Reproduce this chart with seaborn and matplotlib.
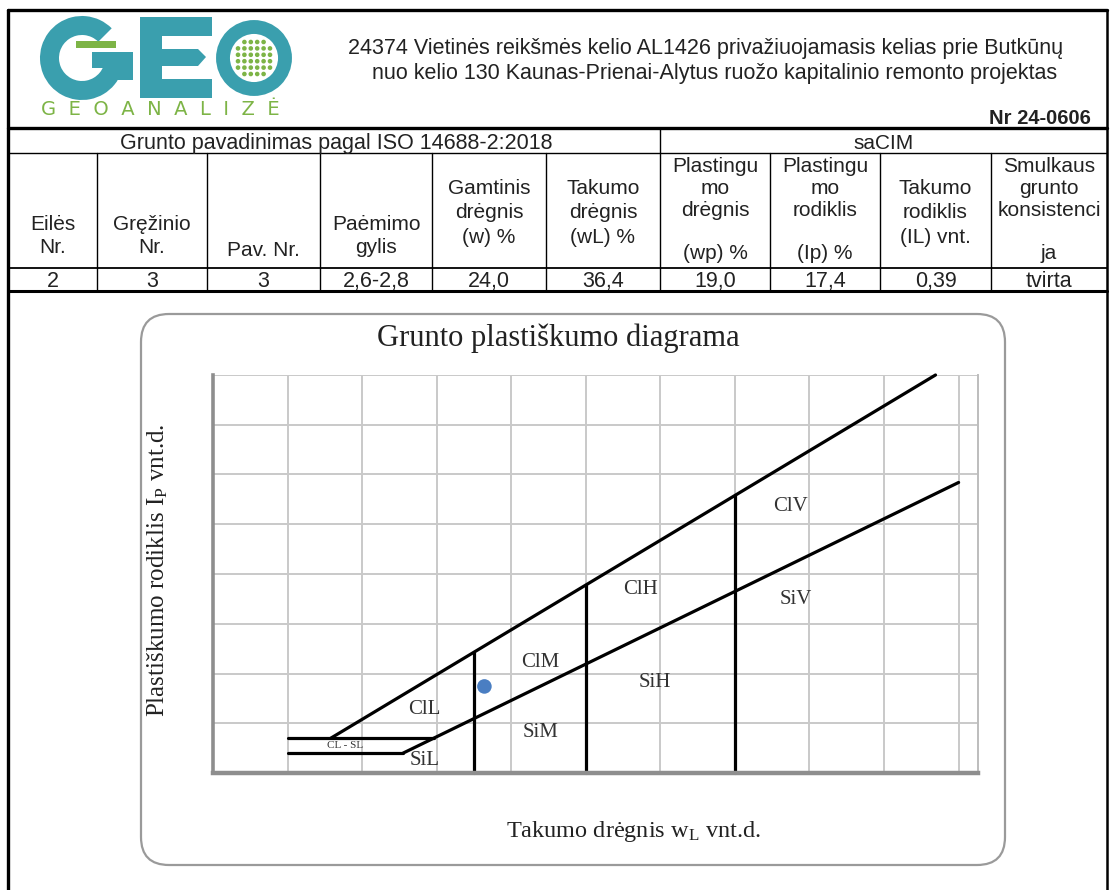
import numpy as np
import pandas as pd
import matplotlib
matplotlib.use("Agg")
import matplotlib.pyplot as plt
from matplotlib.patches import FancyBboxPatch, Circle, Rectangle, Wedge, Polygon
import seaborn as sns

# ---------------- data ----------------
header_line1 = "24374 Vietinės reikšmės kelio AL1426 privažiuojamasis kelias prie Butkūnų"
header_line2 = "nuo kelio 130 Kaunas-Prienai-Alytus ruožo kapitalinio remonto projektas"
doc_number = "Nr 24-0606"
logo_word = "G  E  O  A  N  A  L  I  Z  Ė"

group_titles = ["Grunto pavadinimas pagal ISO 14688-2:2018", "saCIM"]
col_headers = [
    ["Eilės", "Nr."],
    ["Gręžinio", "Nr."],
    ["Pav. Nr."],
    ["Paėmimo", "gylis"],
    ["Gamtinis", "drėgnis", "(w) %"],
    ["Takumo", "drėgnis", "(wL) %"],
    ["Plastingu", "mo", "drėgnis", "(wp) %"],
    ["Plastingu", "mo", "rodiklis", "(Ip) %"],
    ["Takumo", "rodiklis", "(IL) vnt."],
    ["Smulkaus", "grunto", "konsistenci", "ja"],
]
row_values = ["2", "3", "3", "2,6-2,8", "24,0", "36,4", "19,0", "17,4", "0,39", "tvirta"]

chart_title = "Grunto plastiškumo diagrama"

# boundary segments of the plasticity chart (wL, Ip)
sl_line_wl = [10, 25.5]
sl_line_ip = [4, 4]
cl_line_wl = [10, 29.6]
cl_line_ip = [7, 7]
a_line_wl = [25.5, 100]
a_line_ip = [4, 58.4]
u_line_wl = [15.8, 96.9]
u_line_ip = [7, 80]
v35_wl = [35, 35]
v35_ip = [0, 24.3]
v50_wl = [50, 50]
v50_ip = [0, 37.8]
v70_wl = [70, 70]
v70_ip = [0, 55.8]

zone_names = ["ClL", "ClM", "ClH", "ClV", "SiL", "SiM", "SiH", "SiV", "CL - SL"]
zone_wl = [28.4, 43.9, 57.3, 77.4, 28.4, 43.9, 59.3, 78.1, 17.7]
zone_ip = [12.7, 22.3, 36.8, 53.5, 2.6, 8.2, 18.1, 34.8, 5.6]

sample_wl = [36.4]
sample_ip = [17.4]

# ---------------- figure ----------------
sns.set_style("whitegrid")
plt.rcParams["font.family"] = ["Liberation Sans", "DejaVu Sans"]
plt.rcParams["mathtext.fontset"] = "custom"
plt.rcParams["mathtext.rm"] = "Liberation Serif"
plt.rcParams["mathtext.it"] = "Liberation Serif:italic"

W, H = 1110, 890
fig = plt.figure(figsize=(W / 100, H / 100), dpi=100)
page = fig.add_axes([0, 0, 1, 1])
page.set_xlim(0, W)
page.set_ylim(H, 0)
page.axis("off")

K = "black"
TXT = "#222222"
# borders
page.plot([8, 1107], [10, 10], color=K, lw=2.4)
page.plot([8, 8], [10, H], color=K, lw=2.4)
page.plot([1107, 1107], [10, H], color=K, lw=1.8)
page.plot([8, 1107], [128, 128], color=K, lw=2.4)
page.plot([8, 1107], [153, 153], color=K, lw=1.0)
page.plot([8, 1107], [268, 268], color=K, lw=1.3)
page.plot([8, 1107], [291, 291], color=K, lw=2.2)
col_x = [8, 97, 207, 320, 432, 546, 660, 770, 880, 991, 1107]
for x in col_x[1:-1]:
    y0 = 128 if x == 660 else 153
    page.plot([x, x], [y0, 291], color=K, lw=1.0)

# logo
teal = "#3a9fae"
green = "#7db446"
# G
page.add_patch(Wedge((82, 58), 42, 0, 315, width=19, color=teal, lw=0))
page.add_patch(Rectangle((92, 52), 41, 16, color=teal, lw=0))
page.add_patch(Rectangle((114, 52), 19, 28, color=teal, lw=0))
page.add_patch(Rectangle((76, 41), 40, 7, color=green, lw=0, zorder=5))
# E
page.add_patch(Rectangle((140, 17), 22, 81, color=teal, lw=0))
page.add_patch(Rectangle((140, 17), 72, 19, color=teal, lw=0))
page.add_patch(Rectangle((140, 79), 72, 19, color=teal, lw=0))
page.add_patch(Polygon([(162, 49), (198, 49), (206, 57), (198, 66), (162, 66)],
                       closed=True, color=teal, lw=0))
# O
page.add_patch(Circle((254, 58), 31, fill=False, ec=teal, lw=10))
for xx in np.linspace(238, 270, 6):
    for yy in np.linspace(42, 74, 6):
        if (xx - 254) ** 2 + (yy - 58) ** 2 <= 21 ** 2:
            page.add_patch(Circle((xx, yy), 2.3, color=green, lw=0))
page.text(160, 115, logo_word, fontsize=14, color=green,
          ha="center", va="baseline", family="DejaVu Sans")

# header texts
page.text(706, 54, header_line1, fontsize=15.5, ha="center", va="baseline", color=TXT)
page.text(715, 79, header_line2, fontsize=15.5, ha="center", va="baseline", color=TXT)
page.text(1040, 124, doc_number, fontsize=14.5, fontweight="bold", ha="center",
          va="baseline", color=TXT)

# table
page.text(336, 149, group_titles[0], fontsize=15.5, ha="center", va="baseline", color=TXT)
page.text(884, 149, group_titles[1], fontsize=15, ha="center", va="baseline", color=TXT)
line_pos = {1: [256], 2: [230, 253], 3: [194, 218, 243], 4: [172, 194, 216, 259]}
for i, lines in enumerate(col_headers):
    cx = (col_x[i] + col_x[i + 1]) / 2
    for txt, yy in zip(lines, line_pos[len(lines)]):
        page.text(cx, yy, txt, fontsize=15, ha="center", va="baseline", color=TXT)
for i, v in enumerate(row_values):
    cx = (col_x[i] + col_x[i + 1]) / 2
    page.text(cx, 287, v, fontsize=15.5, ha="center", va="baseline", color=TXT)

# chart frame
page.add_patch(FancyBboxPatch((141, 314), 864, 551,
                              boxstyle="round,pad=0,rounding_size=28",
                              fc="white", ec="#9a9a9a", lw=1.6))
page.text(558, 346, chart_title, fontsize=22, family="Liberation Serif",
          ha="center", va="baseline", color=TXT)
page.text(633, 837, r"Takumo drėgnis w$_\mathrm{L}$ vnt.d.", fontsize=17.5,
          family="Liberation Serif", ha="center", va="baseline", color=TXT)
page.text(158, 570, r"Plastiškumo rodiklis I$_\mathrm{P}$ vnt.d.", fontsize=18,
          family="Liberation Serif", ha="center", va="center", rotation=90, color=TXT)

# plot area
x0, x1, y0, y1 = 213, 978, 375, 773
ax = fig.add_axes([x0 / W, (H - y1) / H, (x1 - x0) / W, (y1 - y0) / H])
ax.set_facecolor("none")
ax.set_xlim(0, 102.6)
ax.set_ylim(0, 80)
ax.set_xticks(np.arange(0, 101, 10))
ax.set_yticks(np.arange(0, 81, 10))
ax.grid(True, color="#c9c9c9", lw=1.4)
ax.tick_params(axis="x", length=0, labelbottom=False)
ax.tick_params(axis="y", length=5, width=1.2, color="#999", direction="out", labelleft=False)
ax.spines["top"].set_visible(False)
ax.spines["right"].set_color("#bdbdbd")
ax.spines["right"].set_linewidth(1.4)
ax.spines["left"].set_color("#8e8e8e")
ax.spines["left"].set_linewidth(2.6)
ax.spines["bottom"].set_color("#8e8e8e")
ax.spines["bottom"].set_linewidth(3.2)

segs = [("sl", sl_line_wl, sl_line_ip), ("cl", cl_line_wl, cl_line_ip),
        ("a", a_line_wl, a_line_ip), ("u", u_line_wl, u_line_ip),
        ("v35", v35_wl, v35_ip), ("v50", v50_wl, v50_ip), ("v70", v70_wl, v70_ip)]
df = pd.concat([pd.DataFrame({"seg": n, "wl": w, "ip": p}) for n, w, p in segs],
               ignore_index=True)
sns.lineplot(data=df, x="wl", y="ip", units="seg", estimator=None, sort=False,
             color="black", lw=2.3, ax=ax, clip_on=False)
sns.scatterplot(x=sample_wl, y=sample_ip, s=110, color="#4a7ec2", edgecolor="none",
                ax=ax, zorder=5)
for n, w, p in zip(zone_names, zone_wl, zone_ip):
    ax.text(w, p, n, fontsize=(8 if n == "CL - SL" else 15), family="Liberation Serif",
            ha="center", va="center", color="#333")
ax.set_xlabel("")
ax.set_ylabel("")

fig.savefig("out.png", dpi=100)
